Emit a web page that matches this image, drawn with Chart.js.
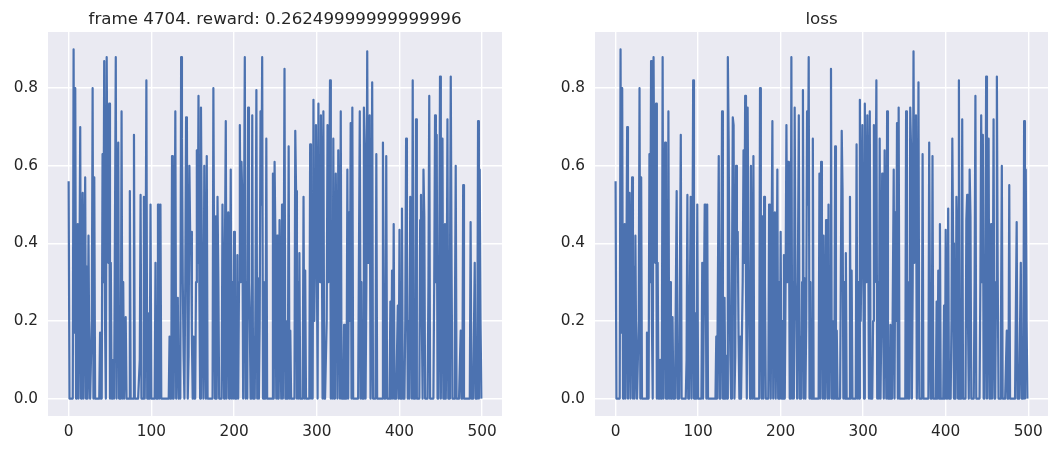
<!DOCTYPE html>
<html>
<head>
<meta charset="utf-8">
<script src="https://cdn.jsdelivr.net/npm/chart.js@4.4.1/dist/chart.umd.min.js"></script>
<style>
  html, body { margin: 0; padding: 0; background: #ffffff; }
  #wrap { position: relative; width: 1060px; height: 455px; }
  canvas { position: absolute; top: 0; }
</style>
</head>
<body>
<div id="wrap">
  <canvas id="c1" width="530" height="455" style="left:0px"></canvas>
  <canvas id="c2" width="530" height="455" style="left:530px"></canvas>
</div>
<script>
// ---- data ----
const leftTitle = "frame 4704. reward: 0.26249999999999996";
const rightTitle = "loss";
const xTickValues = [0, 100, 200, 300, 400, 500];
const yTickValues = [0.0, 0.2, 0.4, 0.6, 0.8];
const lossValues = [
  0.56, 0, 0, 0, 0, 0, 0.90, 0.17, 0.80, 0,
  0.25, 0.45, 0, 0.30, 0.70, 0, 0.20, 0.53, 0, 0.30,
  0.57, 0, 0.34, 0, 0.42, 0.10, 0, 0, 0.20, 0.80,
  0, 0.57, 0, 0, 0, 0, 0, 0, 0.17, 0,
  0, 0.63, 0.30, 0.87, 0.20, 0, 0.88, 0.50, 0.35, 0.76,
  0, 0.35, 0, 0, 0.10, 0, 0, 0.88, 0, 0.40,
  0.66, 0, 0, 0, 0.74, 0, 0.30, 0, 0, 0.21,
  0, 0, 0, 0, 0.535, 0, 0, 0, 0, 0.68,
  0, 0, 0, 0, 0, 0, 0.10, 0.525, 0, 0,
  0, 0.52, 0, 0.30, 0.82, 0, 0, 0.22, 0, 0.50,
  0, 0, 0, 0, 0, 0.35, 0, 0, 0.50, 0.50,
  0, 0.50, 0, 0, 0, 0, 0, 0, 0, 0,
  0, 0, 0.16, 0, 0, 0.625, 0, 0, 0.30, 0.74,
  0, 0, 0.26, 0, 0.11, 0, 0.88, 0.67, 0.30, 0.11,
  0, 0.30, 0.725, 0.705, 0, 0.11, 0.60, 0.41, 0.43, 0.16,
  0, 0.16, 0, 0, 0.30, 0.64, 0.35, 0.78, 0.30, 0,
  0.75, 0.40, 0.18, 0, 0.60, 0.20, 0, 0.625, 0, 0,
  0, 0, 0, 0, 0, 0.80, 0.30, 0, 0.47, 0,
  0.52, 0.30, 0, 0, 0, 0, 0.50, 0.21, 0, 0.40,
  0.715, 0, 0.30, 0.48, 0, 0.20, 0.59, 0, 0.30, 0,
  0.43, 0, 0.20, 0, 0.37, 0, 0.30, 0.705, 0.30, 0.61,
  0.51, 0, 0, 0.88, 0, 0.30, 0, 0.75, 0.30, 0.20,
  0, 0, 0.73, 0, 0.16, 0, 0.30, 0.795, 0, 0.31,
  0, 0.20, 0.74, 0.50, 0.88, 0, 0.30, 0, 0, 0.67,
  0, 0, 0, 0, 0, 0, 0, 0.58, 0, 0.61,
  0.40, 0, 0.42, 0, 0, 0.46, 0.20, 0, 0.50, 0,
  0.30, 0.85, 0, 0.20, 0, 0, 0.65, 0, 0.175, 0,
  0, 0, 0, 0, 0.69, 0.535, 0, 0.30, 0, 0.375,
  0, 0, 0, 0, 0.52, 0, 0.33, 0, 0, 0,
  0, 0, 0.655, 0, 0.30, 0, 0.77, 0.20, 0.40, 0.705,
  0.40, 0, 0.76, 0.35, 0.30, 0.73, 0.50, 0, 0.74, 0,
  0, 0, 0.20, 0.705, 0.30, 0.50, 0.82, 0, 0.30, 0,
  0.67, 0, 0.20, 0.58, 0.30, 0, 0.64, 0.30, 0, 0.74,
  0, 0, 0, 0.19, 0, 0, 0, 0.59, 0, 0.48,
  0.20, 0.71, 0, 0.75, 0, 0, 0, 0, 0, 0,
  0, 0, 0.74, 0, 0.30, 0, 0, 0.75, 0.65, 0,
  0.30, 0.895, 0.35, 0.40, 0.73, 0, 0.20, 0.815, 0, 0,
  0, 0, 0.63, 0, 0, 0, 0, 0, 0, 0,
  0.66, 0.20, 0, 0, 0.625, 0, 0, 0, 0, 0.25,
  0, 0.33, 0, 0.45, 0, 0, 0, 0, 0.24, 0,
  0.435, 0, 0, 0.49, 0, 0, 0, 0.20, 0.67, 0.40,
  0, 0.20, 0, 0.52, 0.41, 0, 0.82, 0, 0, 0,
  0.72, 0, 0, 0, 0, 0.46, 0.525, 0.20, 0, 0.59,
  0.47, 0, 0, 0, 0, 0.30, 0.78, 0, 0, 0,
  0, 0, 0.30, 0.73, 0.30, 0.68, 0, 0, 0.30, 0.83,
  0, 0.30, 0.67, 0, 0, 0.45, 0, 0.20, 0.72, 0,
  0, 0.30, 0.83, 0.33, 0, 0, 0, 0.20, 0.60, 0,
  0, 0, 0, 0, 0.175, 0, 0, 0.55, 0, 0,
  0, 0, 0, 0, 0, 0, 0.455, 0, 0, 0,
  0, 0.35, 0, 0, 0, 0.715, 0, 0.59, 0.20, 0
];
const steps = lossValues.map((_, i) => i);

// ---- styling ----
const FONT = "'DejaVu Sans', sans-serif";
const LINE = "#4C72B0";
const FACE = "#EAEAF2";
const TEXT = "#262626";

const bgPlugin = {
  id: 'bgPlugin',
  beforeDraw(chart) {
    const { ctx, chartArea: a } = chart;
    ctx.save();
    ctx.fillStyle = FACE;
    ctx.fillRect(a.left, a.top, a.right - a.left, a.bottom - a.top);
    ctx.restore();
  },
  afterDraw(chart) {
    const { ctx, chartArea: a } = chart;
    const t = chart.options.plugins.bgPlugin.title;
    ctx.save();
    ctx.fillStyle = TEXT;
    ctx.font = "16.7px " + FONT;
    ctx.textAlign = 'center';
    ctx.textBaseline = 'alphabetic';
    ctx.fillText(t, (a.left + a.right) / 2, a.top - 8);
    ctx.restore();
  }
};

function makeChart(id, title, yAxisWidth, rightPad) {
  const data = steps.map((s, i) => ({ x: s, y: lossValues[i] }));
  return new Chart(document.getElementById(id), {
    type: 'line',
    data: { datasets: [{ data, borderColor: LINE, borderWidth: 2.2, pointRadius: 0, tension: 0, fill: false, borderJoinStyle: 'round' }] },
    options: {
      responsive: false,
      animation: false,
      devicePixelRatio: 1,
      layout: { padding: { left: 0, right: rightPad, top: 32, bottom: 0 } },
      plugins: { legend: { display: false }, tooltip: { enabled: false }, bgPlugin: { title } },
      scales: {
        x: {
          type: 'linear', min: -24.95, max: 523.95,
          afterBuildTicks: s => { s.ticks = xTickValues.map(v => ({ value: v })); },
          afterFit: s => { s.height = 39; },
          grid: { color: '#ffffff', lineWidth: 1.4, drawTicks: false, tickLength: 0 },
          border: { display: false },
          ticks: { color: TEXT, font: { family: FONT, size: 15.3 }, padding: 7, maxRotation: 0, callback: v => String(v) }
        },
        y: {
          type: 'linear', min: -0.0448, max: 0.9448,
          afterBuildTicks: s => { s.ticks = yTickValues.map(v => ({ value: v })); },
          afterFit: s => { s.width = yAxisWidth; },
          grid: { color: '#ffffff', lineWidth: 1.4, drawTicks: false, tickLength: 0 },
          border: { display: false },
          ticks: { color: TEXT, font: { family: FONT, size: 15.3 }, padding: 10, callback: v => Number(v).toFixed(1) }
        }
      }
    },
    plugins: [bgPlugin]
  });
}

makeChart('c1', leftTitle, 48, 28);
makeChart('c2', rightTitle, 65, 12);
</script>
</body>
</html>
